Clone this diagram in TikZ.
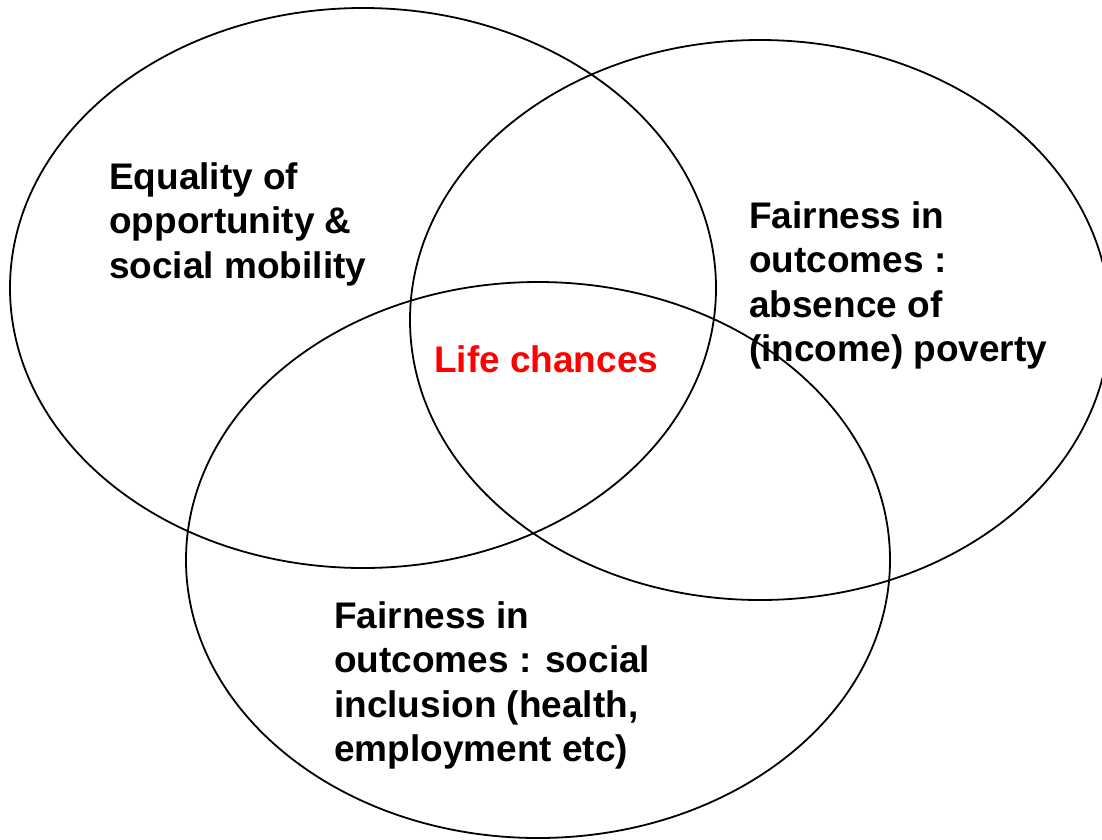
\documentclass[tikz,border=0pt]{standalone}
\usepackage{fontspec}
\setmainfont{Liberation Sans}
\definecolor{lifered}{RGB}{255,0,0}
\tikzset{
  circ/.style={draw=black, line width=1.8pt},
  label/.style={anchor=north west, inner sep=0pt, align=left, font=\fontsize{37}{44.5}\selectfont\bfseries},
}
\begin{document}
\begin{tikzpicture}[x=1pt,y=-1pt]
\useasboundingbox (0,0) rectangle (1102,839);
\begin{scope}
\clip (0,0) rectangle (1102,839);
\draw[circ] (363,288) ellipse [x radius=353pt, y radius=280pt];
\draw[circ] (760,320) ellipse [x radius=350pt, y radius=280pt];
\draw[circ] (538,560) ellipse [x radius=352pt, y radius=278pt];
\end{scope}
\node[label] (eq) at (109,162) {Equality of\\opportunity \&\\social mobility};
\node[label] (pov) at (749,201) {Fairness in\\outcomes :\\absence of\\(income) poverty};
\node[label] (inc) at (334,601) {Fairness in\\outcomes : social\\inclusion (health,\\employment etc)};
\node[label, text=lifered] (life) at (434,345) {Life chances};
\end{tikzpicture}
\end{document}
